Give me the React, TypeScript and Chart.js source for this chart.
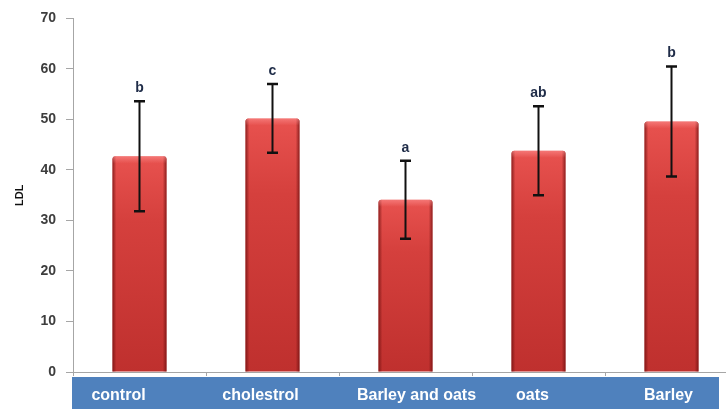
import React, { useEffect, useRef } from 'react';
import { Chart, registerables } from 'chart.js';

Chart.register(...registerables);

// LDL by diet group, with standard-error whiskers and significance letters
const groups = ['control', 'cholestrol', 'Barley and oats', 'oats', 'Barley'];
const ldlMean = [42.7, 50.2, 34.1, 43.8, 49.6];
const ldlError = [10.9, 6.8, 7.7, 8.8, 10.9];
const groupLetters = ['b', 'c', 'a', 'ab', 'b'];
const yMin = 0;
const yMax = 70;
const yStep = 10;

const FONT = '"Liberation Sans", Arial, Helvetica, sans-serif';

// small horizontal nudges for the category captions in the blue band
const captionNudge = [-21, -12, 11, -6, -3];

const decorPlugin = {
  id: 'decor',
  beforeDraw(chart: any) {
    const { ctx, chartArea } = chart;
    ctx.save();
    ctx.fillStyle = '#4f81bd';
    const left = chartArea.left - 1;
    const right = chart.width - 19;
    const top = chartArea.bottom + 5;
    ctx.fillRect(left, top, right - left, chart.height - top);
    ctx.restore();
  },
  afterDatasetsDraw(chart: any) {
    const { ctx } = chart;
    const yScale = chart.scales.y;
    const meta = chart.getDatasetMeta(0);
    ctx.save();

    meta.data.forEach((bar: any, i: number) => {
      const { x, y, base, width } = bar.getProps(['x', 'y', 'base', 'width'], true);
      const left = x - width / 2;
      const right = x + width / 2;
      const h = base - y;

      // body: lighter near the top, deeper red toward the base
      const body = ctx.createLinearGradient(0, y, 0, base);
      body.addColorStop(0, '#e8524f');
      body.addColorStop(0.3, '#d5403d');
      body.addColorStop(1, '#bf302e');
      ctx.fillStyle = body;
      ctx.beginPath();
      const r = 3;
      ctx.moveTo(left, base);
      ctx.lineTo(left, y + r);
      ctx.quadraticCurveTo(left, y, left + r, y);
      ctx.lineTo(right - r, y);
      ctx.quadraticCurveTo(right, y, right, y + r);
      ctx.lineTo(right, base);
      ctx.closePath();
      ctx.fill();

      // darker shaded sides
      const side = ctx.createLinearGradient(left, 0, right, 0);
      side.addColorStop(0, 'rgba(110,15,15,0.75)');
      side.addColorStop(0.07, 'rgba(110,15,15,0)');
      side.addColorStop(0.93, 'rgba(110,15,15,0)');
      side.addColorStop(1, 'rgba(110,15,15,0.75)');
      ctx.fillStyle = side;
      ctx.fill();

      // soft bevel on the top edge
      const bevel = ctx.createLinearGradient(0, y, 0, y + Math.min(7, h));
      bevel.addColorStop(0, 'rgba(255,150,150,0.55)');
      bevel.addColorStop(1, 'rgba(255,150,150,0)');
      ctx.fillStyle = bevel;
      ctx.fill();

      // error whisker
      const hi = yScale.getPixelForValue(ldlMean[i] + ldlError[i]);
      const lo = yScale.getPixelForValue(ldlMean[i] - ldlError[i]);
      ctx.strokeStyle = '#111111';
      ctx.lineCap = 'butt';
      ctx.lineWidth = 2;
      ctx.beginPath();
      ctx.moveTo(x, hi);
      ctx.lineTo(x, lo);
      ctx.stroke();
      ctx.lineWidth = 2.5;
      ctx.beginPath();
      ctx.moveTo(x - 5.5, hi);
      ctx.lineTo(x + 5.5, hi);
      ctx.moveTo(x - 5.5, lo);
      ctx.lineTo(x + 5.5, lo);
      ctx.stroke();

      // significance letter
      ctx.fillStyle = '#1f2c48';
      ctx.font = `bold 14px ${FONT}`;
      ctx.textAlign = 'center';
      ctx.textBaseline = 'alphabetic';
      ctx.fillText(groupLetters[i], x, hi - 9);
    });

    // category captions inside the blue band
    const xScale = chart.scales.x;
    ctx.fillStyle = '#ffffff';
    ctx.font = `bold 16px ${FONT}`;
    ctx.textAlign = 'center';
    ctx.textBaseline = 'alphabetic';
    groups.forEach((g, i) => {
      const cx = xScale.getPixelForValue(i) + captionNudge[i];
      ctx.fillText(g, cx, chart.chartArea.bottom + 28);
    });

    ctx.restore();
  },
};

export default function App() {
  const canvasRef = useRef<HTMLCanvasElement | null>(null);

  useEffect(() => {
    document.body.style.margin = '0';
    const canvas = canvasRef.current;
    if (!canvas) return;
    Chart.defaults.font.family = FONT;

    const chart = new Chart(canvas, {
      type: 'bar',
      data: {
        labels: groups,
        datasets: [
          {
            label: 'LDL',
            data: ldlMean,
            backgroundColor: 'rgba(0,0,0,0)',
            borderWidth: 0,
            barPercentage: 0.406,
            categoryPercentage: 1,
          },
        ],
      },
      options: {
        responsive: false,
        animation: false,
        devicePixelRatio: 1,
        layout: { padding: { top: 17, right: 0, left: 0, bottom: 0 } },
        plugins: {
          legend: { display: false },
          tooltip: { enabled: false },
        },
        scales: {
          x: {
            offset: true,
            grid: {
              display: true,
              offset: true,
              drawOnChartArea: false,
              drawTicks: true,
              tickLength: 4,
              color: '#a6a6a6',
            },
            border: { display: true, color: '#a6a6a6', width: 1 },
            ticks: { display: false },
            afterFit: (scale: any) => {
              scale.height = 37;
            },
          },
          y: {
            min: yMin,
            max: yMax,
            ticks: {
              stepSize: yStep,
              color: '#3d3d3d',
              font: { family: FONT, size: 14, weight: 'bold' },
              padding: 10,
            },
            grid: {
              display: true,
              drawOnChartArea: false,
              drawTicks: true,
              tickLength: 7,
              color: '#a6a6a6',
            },
            border: { display: true, color: '#a6a6a6', width: 1 },
            title: {
              display: true,
              text: 'LDL',
              color: '#111111',
              font: { family: FONT, size: 11, weight: 'bold' },
              padding: { top: 13, bottom: 0 },
            },
            afterFit: (scale: any) => {
              scale.width = 73;
            },
          },
        },
      },
      plugins: [decorPlugin],
    });

    return () => chart.destroy();
  }, []);

  return (
    <div style={{ width: 726, height: 409, overflow: 'hidden', position: 'relative', background: '#ffffff' }}>
      <canvas ref={canvasRef} width={738} height={409} style={{ display: 'block', width: 738, height: 409 }} />
    </div>
  );
}
